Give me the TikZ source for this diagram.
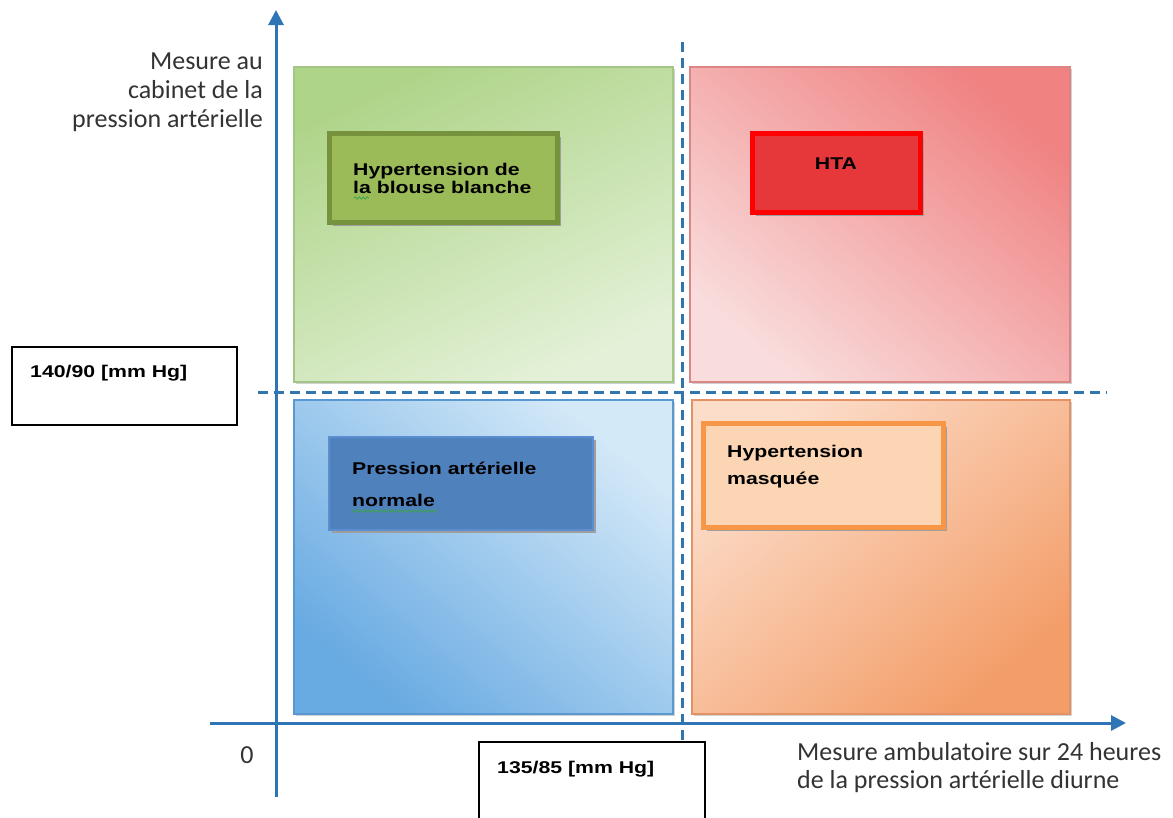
\documentclass[tikz,border=0pt]{standalone}
\usepackage{fontspec}
\newfontfamily\calib{Carlito}
\newfontfamily\boxfont{Liberation Sans Bold}[FakeStretch=1.25]
\usetikzlibrary{arrows.meta,decorations.pathmorphing}
\definecolor{axisblue}{HTML}{2F75B5}
\definecolor{dashblue}{HTML}{3274AC}
\definecolor{textgray}{HTML}{333333}
\definecolor{greenA}{HTML}{AED488}
\definecolor{greenB}{HTML}{E4F1D8}
\definecolor{greenE}{HTML}{A3C585}
\definecolor{redA}{HTML}{F08282}
\definecolor{redB}{HTML}{F9DCDC}
\definecolor{redE}{HTML}{DB8585}
\definecolor{blueA}{HTML}{68AAE2}
\definecolor{blueB}{HTML}{D4E9F8}
\definecolor{blueE}{HTML}{5A98D2}
\definecolor{orA}{HTML}{F39D68}
\definecolor{orB}{HTML}{FCDDCA}
\definecolor{orE}{HTML}{E39265}
\definecolor{gboxF}{HTML}{9BBB59}
\definecolor{gboxE}{HTML}{76923C}
\definecolor{rboxF}{HTML}{E6383B}
\definecolor{rboxE}{HTML}{FF0000}
\definecolor{bboxF}{HTML}{4F81BD}
\definecolor{bboxE}{HTML}{5A8ED0}
\definecolor{oboxF}{HTML}{FCD5B5}
\definecolor{oboxE}{HTML}{F79646}
\definecolor{squig}{HTML}{3FA34D}
\tikzset{
  quad/.style={line width=1.2pt},
  qshadow/.style={fill=black!18},
  bshadow/.style={fill=black!38},
  lbl/.style={font=\boxfont\fontsize{17}{18}\selectfont, text=black, inner sep=0pt, align=left, anchor=base west},
  numbox/.style={draw=black, fill=white, line width=1.2pt},
  numtxt/.style={font=\boxfont\fontsize{17}{18}\selectfont, text=black, inner sep=0pt, anchor=base west},
  axisline/.style={draw=axisblue, line width=3pt, -{Triangle[length=15pt,width=15pt]}},
  dashline/.style={draw=dashblue, line width=3pt, dash pattern=on 10pt off 6pt},
  caption/.style={font=\calib\fontsize{26}{29}\selectfont, text=textgray, inner sep=0pt},
  squiggle/.style={draw=squig, line width=0.8pt, decorate, decoration={snake, segment length=4pt, amplitude=1.2pt}}
}
\begin{document}
\begin{tikzpicture}[x=1pt,y=-1pt]
\useasboundingbox[fill=white] (0,0) rectangle (1173,817);

% quadrants
\fill[qshadow] (296,69) rectangle (675,384);
\fill[qshadow] (692,69) rectangle (1072,384);
\fill[qshadow] (296,402) rectangle (675,716);
\fill[qshadow] (694,402) rectangle (1072,716);
\draw[quad, draw=greenE, top color=greenA, bottom color=greenB, shading angle=25] (294,67) rectangle (673,382);
\draw[quad, draw=redE, top color=redA, bottom color=redB, shading angle=-40] (690,67) rectangle (1070,382);
\draw[quad, draw=blueE, top color=blueB, bottom color=blueA, shading angle=-40] (294,400) rectangle (673,714);
\draw[quad, draw=orE, top color=orB, bottom color=orA, shading angle=40] (692,400) rectangle (1070,714);

% dashed threshold lines
\coordinate (hl) at (258,392);
\coordinate (hr) at (1107,392);
\coordinate (vt) at (682,42);
\coordinate (vb) at (682,742);
\draw[dashline] (hl) -- (hr);
\draw[dashline] (vt) -- (vb);

% axes
\coordinate (yb) at (276,797);
\coordinate (yt) at (276,10);
\coordinate (xl) at (210,723);
\coordinate (xr) at (1126,723);
\draw[axisline] (yb) -- (yt);
\draw[axisline] (xl) -- (xr);

% inner boxes
\fill[bshadow] (333,137) rectangle (561,226);
\draw[line width=5pt, draw=gboxE, fill=gboxF] (329,133) rectangle (557,222);
\fill[bshadow] (756,137) rectangle (924,216);
\draw[line width=5pt, draw=rboxE, fill=rboxF] (752,133) rectangle (920,212);
\fill[bshadow] (332,440) rectangle (596,533);
\draw[line width=2pt, draw=bboxE, fill=bboxF] (329,437) rectangle (593,530);
\fill[bshadow] (707,427) rectangle (947,531);
\draw[line width=5pt, draw=oboxE, fill=oboxF] (703,423) rectangle (943,527);

\node[lbl] (tgreen) at (353,193) {Hypertension de\\la blouse blanche};
\node[lbl, anchor=base] (tred) at (836,169) {HTA};
\node[lbl, font=\boxfont\fontsize{17}{32}\selectfont] (tblue) at (352,506) {Pression artérielle\\normale};
\node[lbl, font=\boxfont\fontsize{17}{27}\selectfont] (torange) at (727,484) {Hypertension\\masquée};

\coordinate (sq1a) at (354,198);
\coordinate (sq1b) at (369,198);
\coordinate (sq2a) at (352,511);
\coordinate (sq2b) at (437,511);
\draw[squiggle] (sq1a) -- (sq1b);
\draw[squiggle] (sq2a) -- (sq2b);

% threshold label boxes
\draw[numbox] (12,347) rectangle (237,425);
\node[numtxt] (t140) at (30,377) {140/90 [mm Hg]};
\draw[numbox] (479,742) rectangle (705,830);
\node[numtxt] (t135) at (497,773) {135/85 [mm Hg]};

% captions
\node[caption, align=right, anchor=base east] (ylab) at (263,127) {Mesure au\\cabinet de la\\pression artérielle};
\node[caption, anchor=base] (zero) at (247,763) {0};
\node[caption, align=left, anchor=base west, font=\calib\fontsize{26}{28}\selectfont] (xlab) at (797,788) {Mesure ambulatoire sur 24 heures\\de la pression artérielle diurne};
\end{tikzpicture}
\end{document}
